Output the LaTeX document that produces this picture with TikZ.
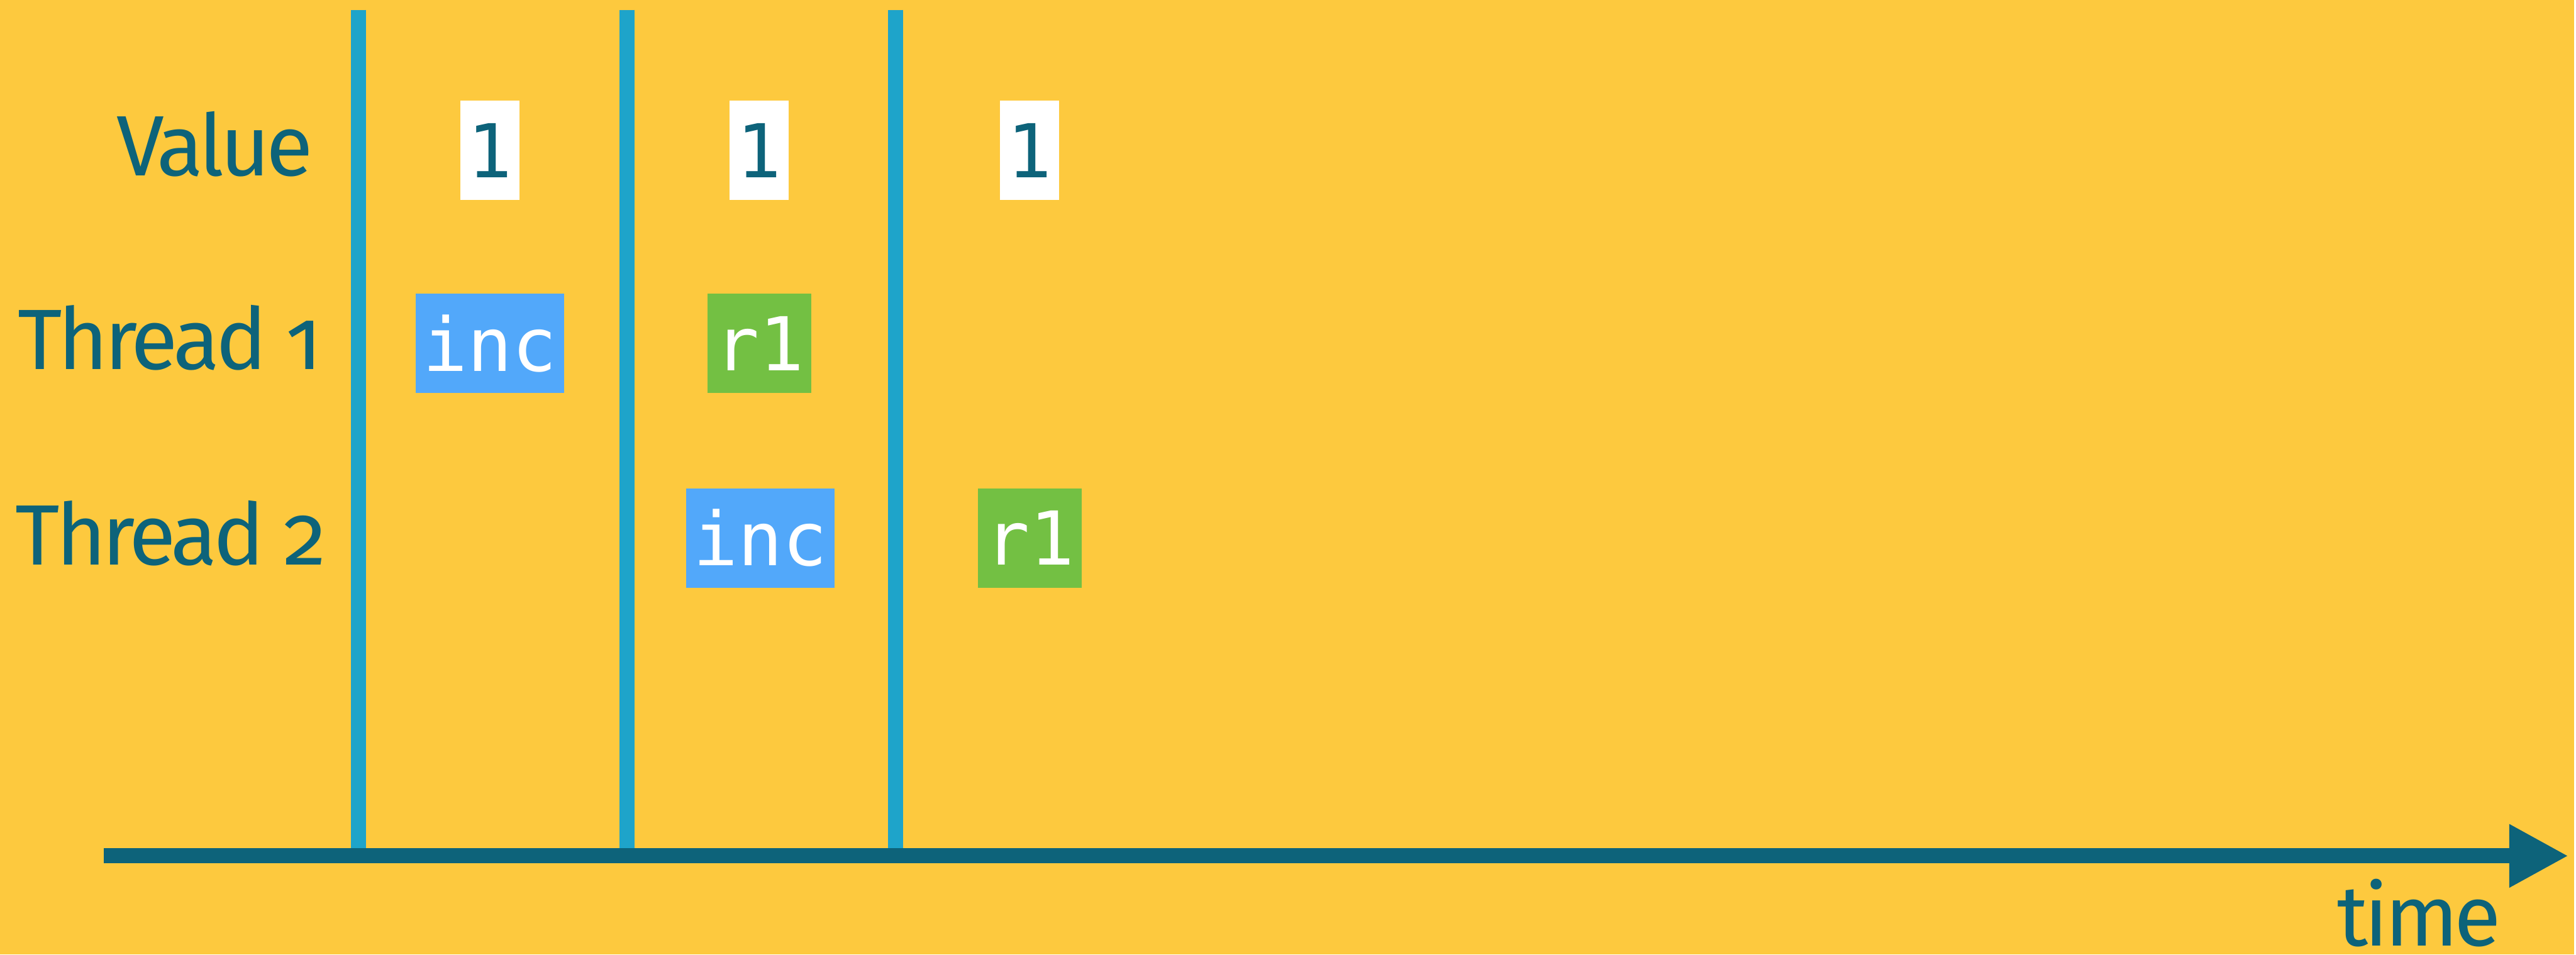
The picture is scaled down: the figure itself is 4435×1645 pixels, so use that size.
\documentclass[tikz,border=0pt]{standalone}
\usepackage{fontspec}
\setmainfont[Numbers=OldStyle,LetterSpace=-4.5]{Fira Sans}
\newfontfamily\codefont{DejaVu Sans Mono}
\usetikzlibrary{arrows.meta}
\definecolor{sunny}{HTML}{FDC93E}
\definecolor{inkteal}{HTML}{0D637A}
\definecolor{barblue}{HTML}{1EA4CA}
\definecolor{incblue}{HTML}{52A8FA}
\definecolor{readgreen}{HTML}{73C043}
\newcommand{\rowlabel}[3]{\node[rowtext,anchor=base east] (#1) at #2 {#3};}

\begin{document}
\begin{tikzpicture}[x=0.01cm,y=-0.01cm,
  rowtext/.style={font=\fontsize{42}{46}\selectfont,text=inkteal,inner sep=0pt},
  slot/.style={font=\codefont\fontsize{36.4}{40}\selectfont,minimum height=1.71cm,inner xsep=0.125cm,inner ysep=0pt},
  valbox/.style={slot,fill=white,text=inkteal},
  incbox/.style={slot,fill=incblue,text=white},
  readbox/.style={slot,fill=readgreen,text=white},
  barrier/.style={draw=barblue,line width=0.26cm},
  timeaxis/.style={draw=inkteal,line width=0.26cm,-{Triangle[length=1.02cm,width=1.02cm]}}]
  \fill[sunny] (0,0) rectangle (4435,1645);
  % time axis end points
  \coordinate (axisstart) at (179,1475);
  \coordinate (axisend) at (4425,1475);
  % step barriers
  \foreach \b/\x in {1/618,2/1080,3/1543}{
    \coordinate (bar\b) at (\x,17);
    \draw[barrier] (bar\b) -- (bar\b |- axisstart);
  }
  \draw[timeaxis] (axisstart) -- (axisend);
  \node[rowtext,anchor=base] (timelbl) at (4168,1630) {time};
  % row labels
  \rowlabel{lblvalue}{(540,303)}{Value}
  \rowlabel{lblone}{(556,637)}{Thread 1}
  \rowlabel{lbltwo}{(563,973)}{Thread 2}
  % shared value
  \foreach \c/\x in {1/844,2/1308,3/1774}{
    \node[valbox] (value\c) at (\x,259) {1};
  }
  % thread operations
  \node[incbox] (oneinc) at (844,592) {inc};
  \node[readbox] (oneread) at (1308,592) {r1};
  \node[incbox] (twoinc) at (1310,927) {inc};
  \node[readbox] (tworead) at (1774,927) {r1};
\end{tikzpicture}
\end{document}
